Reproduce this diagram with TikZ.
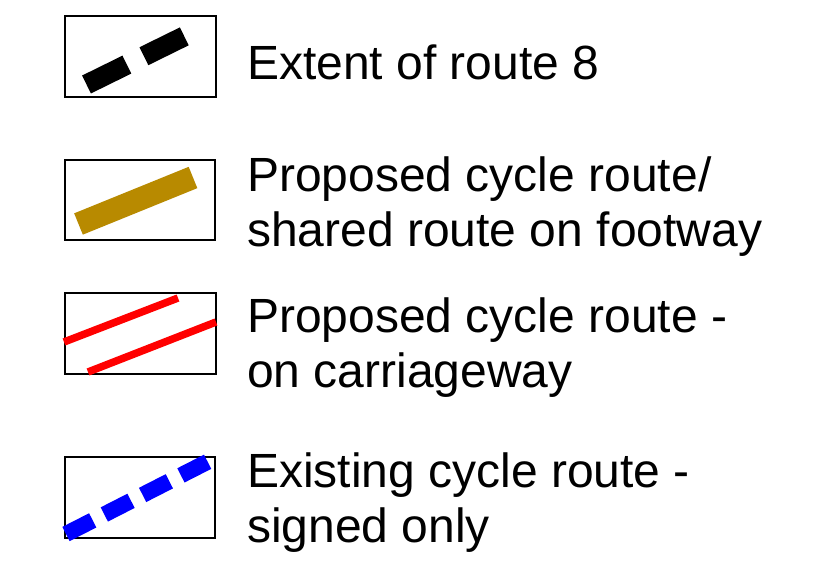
\documentclass[tikz,border=0pt]{standalone}
\usepackage{fontspec}
\setmainfont{Liberation Sans}
\definecolor{goldbar}{RGB}{184,138,0}
\begin{document}
\begin{tikzpicture}[x=1pt,y=-1pt,
  legendbox/.style={draw=black, line width=1.3pt, fill=white, inner sep=0pt, minimum width=151pt, minimum height=81pt},
  label/.style={anchor=base west, align=left, inner sep=0pt, font=\fontsize{48pt}{55pt}\selectfont}]
\useasboundingbox (0,0) rectangle (828,561);
% boxes
\node[legendbox] (b1) at (140.5,56.5) {};
\node[legendbox, minimum width=150pt, minimum height=80pt] (b2) at (140,200) {};
\node[legendbox] (b3) at (140.5,333.5) {};
\node[legendbox, minimum width=150pt] (b4) at (140,497.5) {};
% symbols
\coordinate (s1a) at (86.5,84.5); \coordinate (s1b) at (185,36);
\draw[black, line width=20pt, dash pattern=on 45pt off 19pt] (s1a) -- (s1b);
\coordinate (s2a) at (78.5,224); \coordinate (s2b) at (193,177.5);
\draw[goldbar, line width=23pt] (s2a) -- (s2b);
\coordinate (s3a) at (64,342); \coordinate (s3b) at (178,298);
\coordinate (s3c) at (88,372); \coordinate (s3d) at (216,322);
\draw[red, line width=7.5pt] (s3a) -- (s3b);
\draw[red, line width=7.5pt] (s3c) -- (s3d);
\coordinate (s4a) at (66,534); \coordinate (s4b) at (215,458);
\draw[blue, line width=16pt, dash pattern=on 30pt off 13pt] (s4a) -- (s4b);
% labels
\node[label] (t1) at (247,80) {Extent of route 8};
\node[label] (t2) at (247,247) {Proposed cycle route/\\shared route on footway};
\node[label] (t3) at (247,388) {Proposed cycle route -\\on carriageway};
\node[label] (t4) at (247,542) {Existing cycle route -\\signed only};
\end{tikzpicture}
\end{document}
